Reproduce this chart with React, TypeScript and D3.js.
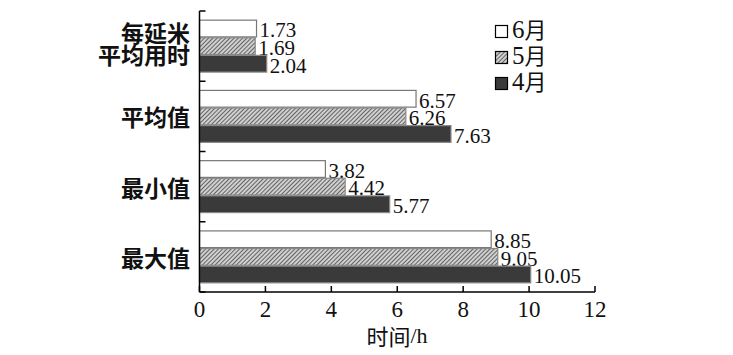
import React from "react";
import * as d3 from "d3";

const categories = ["每延米平均用时", "平均值", "最小值", "最大值"];
const categoryLines = [["每延米", "平均用时"], ["平均值"], ["最小值"], ["最大值"]];
const seriesNames = ["6月", "5月", "4月"];
const june = [1.73, 6.57, 3.82, 8.85];
const may = [1.69, 6.26, 4.42, 9.05];
const april = [2.04, 7.63, 5.77, 10.05];
const xTicks = [0, 2, 4, 6, 8, 10, 12];

const W = 733;
const H = 355;
const serif = "'Liberation Serif', 'Times New Roman', 'DejaVu Serif', serif";
const cjk = "'Noto Sans CJK SC', sans-serif";

export default function App() {
  const x = d3.scaleLinear().domain([0, 12]).range([199.5, 595]);
  const y = d3.scaleBand<string>().domain(categories).range([11, 292]).paddingInner(0).paddingOuter(0);
  const inner = d3.scaleBand<string>().domain(seriesNames).range([0, y.bandwidth()]).paddingOuter(0.52).paddingInner(0.05);
  const series = [june, may, april];
  const fills = ["#ffffff", "url(#hatch)", "#3a3a3a"];
  const strokes = ["#777", "#888", "#888"];
  const x0 = x(0);
  const yBottom = y.range()[1];
  const yTop = y.range()[0];
  const boundaries = [...categories.map((c) => y(c) as number), yBottom];

  return (
    <svg width={W} height={H} style={{ position: "absolute", left: 0, top: 0, background: "#fff" }}>
      <defs>
        <pattern id="hatch" patternUnits="userSpaceOnUse" width="3" height="3" patternTransform="rotate(45)">
          <rect width="3" height="3" fill="#d0d0d0" />
          <line x1="0" y1="0" x2="0" y2="3" stroke="#333" strokeWidth="1.4" />
        </pattern>
      </defs>
      {categories.map((c, ci) => {
        const by = y(c) as number;
        return (
          <g key={c}>
            {series.map((vals, si) => {
              const sy = by + (inner(seriesNames[si]) as number);
              const bh = inner.bandwidth();
              return (
                <g key={si}>
                  <rect x={x0} y={sy} width={x(vals[ci]) - x0} height={bh} fill={fills[si]} stroke={strokes[si]} strokeWidth={1.2} />
                  <text x={x(vals[ci]) + 3} y={sy + bh + 0.5} style={{ fontFamily: serif, fontSize: "21px" }} fill="#111">
                    {vals[ci].toFixed(2)}
                  </text>
                </g>
              );
            })}
            {categoryLines[ci].map((line, li) => {
              const n = categoryLines[ci].length;
              const shift = n > 1 ? -3 : 0;
              const cy = by + y.bandwidth() / 2 + shift + (li - (n - 1) / 2) * 22;
              return (
                <text key={li} x={190} y={cy} textAnchor="end" dominantBaseline="central" style={{ fontFamily: cjk, fontWeight: 700, fontSize: "23px" }} fill="#111">
                  {line}
                </text>
              );
            })}
          </g>
        );
      })}
      {/* axes */}
      <line x1={x0} y1={yTop} x2={x0} y2={yBottom} stroke="#000" strokeWidth={1.5} />
      <line x1={x0} y1={yBottom} x2={x(12)} y2={yBottom} stroke="#000" strokeWidth={1.5} />
      {boundaries.map((b, i) => (
        <line key={i} x1={x0} y1={b} x2={x0 + 6} y2={b} stroke="#000" strokeWidth={1.5} />
      ))}
      {xTicks.map((t) => (
        <g key={t}>
          <line x1={x(t)} y1={yBottom} x2={x(t)} y2={yBottom - 6} stroke="#000" strokeWidth={1.5} />
          <text x={x(t)} y={317} textAnchor="middle" style={{ fontFamily: serif, fontSize: "23px" }} fill="#111">
            {t}
          </text>
        </g>
      ))}
      <text x={397} y={335} textAnchor="middle" dominantBaseline="central" fill="#111" style={{ fontSize: "22px" }}>
        <tspan style={{ fontFamily: cjk }}>时间</tspan>
        <tspan style={{ fontFamily: serif }}>/h</tspan>
      </text>
      {/* legend */}
      {seriesNames.map((s, i) => (
        <g key={s}>
          <rect x={495.5} y={25.5 + i * 26} width={12} height={12} fill={fills[i]} stroke="#000" strokeWidth={1.2} />
          <text x={512} y={38 + i * 26} fill="#111" style={{ fontFamily: serif, fontSize: "25px" }}>
            {s.replace("月", "")}
            <tspan style={{ fontFamily: cjk, fontSize: "22px" }}>月</tspan>
          </text>
        </g>
      ))}
    </svg>
  );
}
